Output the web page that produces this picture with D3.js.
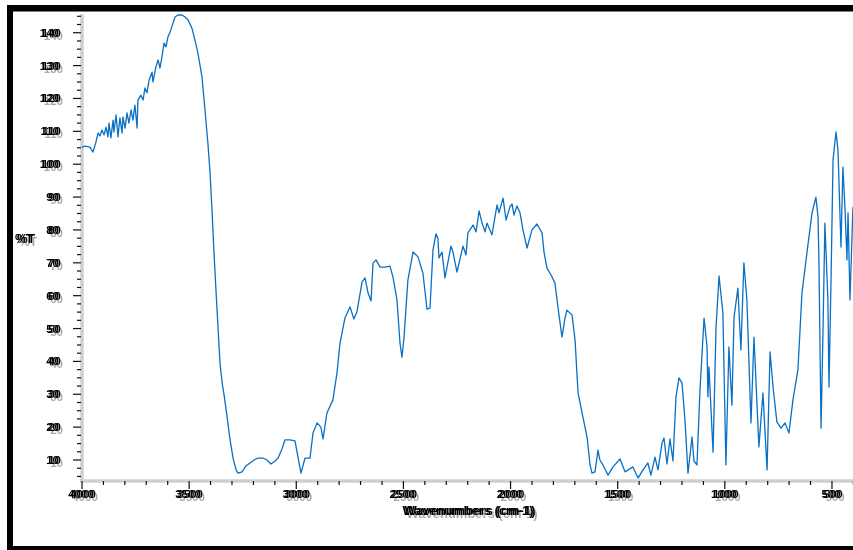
<!DOCTYPE html>
<html><head><meta charset="utf-8">
<script src="https://cdn.jsdelivr.net/npm/d3@7/dist/d3.min.js"></script>
<style>html,body{margin:0;padding:0;background:#fff;overflow:hidden}</style>
</head><body>
<svg id="c" width="853" height="550"></svg>
<script>
// ---- data: IR spectrum, wavenumber (cm-1) vs %T ----
const wavenumbers = [4000,3986,3963,3949,3935,3925,3916,3907,3897,3888,3879,3874,3865,3855,3851,3841,3832,3823,3813,3809,3799,3790,3781,3771,3762,3753,3743,3739,3725,3715,3706,3697,3687,3673,3669,3655,3645,3636,3627,3617,3608,3599,3589,3575,3566,3552,3533,3519,3505,3487,3473,3459,3440,3426,3412,3403,3394,3384,3375,3365,3356,3346,
3337,3323,3309,3295,3281,3272,3253,3235,3216,3197,3179,3155,3137,3118,3099,3085,3067,3053,3029,3006,2992,2978,2969,2959,2936,2922,2903,2885,2875,2857,2829,2810,2796,2773,2749,2731,2717,2693,2679,2665,2651,2642,2628,2609,2586,2563,2549,2530,2516,2507,2497,2479,2455,2432,2409,2390,2376,2362,2348,2339,2334,2320,2306,2278,2269,2250,2222,2208,2199,2175,2161,2147,2133,2119,2110,2087,2063,2054,2035,2021,2003,1993,1984,1970,1956,1942,1923,1900,1877,1853,1844,1830,1811,1793,1779,1760,1746,1737,1713,1699,1685,1667,1643,1629,1620,1606,1592,1583,1569,1545,1522,1489,1466,1429,1405,1382,1359,1345,1326,1312,1293,1284,1270,1256,1242,1228,1214,1200,1186,1172,1153,1144,1130,1116,1097,1083,1079,1074,1055,1041,1027,1009,995,981,967,957,939,925,911,897,878,864,841,822,803,789,775,757,738,719,701,682,659,640,617,593,575,565,561,551,542,533,519,514,505,495,481,472,458,449,439,430,425,416,402];
const transmittance = [105.2,105.5,105.2,103.7,106.7,109.5,108.6,110.4,108.9,111.3,108.3,112.5,108.0,113.4,109.8,115.0,108.3,114.1,109.5,114.4,111.0,115.6,112.5,116.5,113.4,118.0,111.0,119.5,121.0,119.5,123.2,121.7,125.6,128.0,125.0,129.6,131.7,129.3,132.6,136.9,135.7,138.7,140.2,143.0,144.8,145.4,145.4,144.8,143.9,141.4,137.8,133.8,126.5,116.5,106.0,98.0,87.0,73.0,62.0,50.0,39.5,33.5,
29.8,23.1,16.1,10.6,7.0,6.0,6.4,8.2,9.1,10.0,10.6,10.6,10.0,8.8,9.7,10.6,13.3,16.1,16.1,15.8,10.9,6.0,8.2,10.6,10.6,18.2,21.3,20.0,16.4,24.3,28.3,36.5,45.6,53.2,56.6,52.9,55.0,64.2,65.4,60.8,58.4,69.9,70.9,68.7,68.7,69.0,65.7,58.7,45.6,41.3,47.4,64.8,73.3,71.8,66.9,55.9,56.2,73.9,78.8,77.5,71.5,73.3,65.4,75.1,73.3,67.2,75.1,72.4,79.1,81.5,79.4,85.8,82.1,79.4,82.1,78.5,87.6,85.2,89.7,83.0,87.0,87.9,84.5,87.3,85.2,80.0,74.5,80.0,81.8,79.1,73.3,68.4,66.3,63.9,56.6,47.4,53.2,55.6,54.1,46.5,30.4,24.6,17.0,8.5,6.0,6.4,13.0,10.0,8.5,5.4,7.9,10.3,6.4,7.9,4.5,7.0,9.1,5.4,10.9,7.0,15.2,16.7,8.8,16.4,9.7,29.2,35.0,33.4,22.2,6.0,17.0,9.7,8.5,31.3,53.2,44.4,29.2,38.3,12.4,50.5,66.0,54.7,8.5,44.4,26.7,53.5,62.3,43.5,70.0,58.7,21.3,47.4,14.0,30.4,7.0,42.9,32.2,21.6,19.7,21.3,18.2,28.3,37.4,60.8,73.0,85.2,90.0,83.9,70.9,19.7,48.6,82.1,58.7,32.2,62.6,101.3,109.8,104.3,74.8,99.1,86.1,70.9,85.2,58.7,87.0];
const xTickValues = [4000,3500,3000,2500,2000,1500,1000,500];
const yTickValues = [10,20,30,40,50,60,70,80,90,100,110,120,130,140];
const xLabel = "Wavenumbers (cm-1)";
const yLabel = "%T";

const svg = d3.select("#c");
const x = d3.scaleLinear().domain([4000, 400]).range([82, 853.4]);
const y = d3.scaleLinear().domain([3.92, 145.7]).range([480, 14]);

// doubled-print text effect: one text element, grey drop shadow + offset black copy
const defs = svg.append("defs");
const f = defs.append("filter").attr("id","dbl").attr("x","-30%").attr("y","-40%").attr("width","160%").attr("height","180%");
f.append("feOffset").attr("in","SourceAlpha").attr("dx",2).attr("dy",2.5).attr("result","sh");
f.append("feFlood").attr("flood-color","#a8a8a8").attr("result","fl");
f.append("feComposite").attr("in","fl").attr("in2","sh").attr("operator","in").attr("result","grey");
f.append("feOffset").attr("in","SourceGraphic").attr("dx",-2.5).attr("dy",0).attr("result","dup");
const m = f.append("feMerge");
m.append("feMergeNode").attr("in","grey");
m.append("feMergeNode").attr("in","dup");
m.append("feMergeNode").attr("in","SourceGraphic");

// frame
svg.append("rect").attr("x",7).attr("y",5).attr("width",846).attr("height",6.5).attr("fill","#000");
svg.append("rect").attr("x",7).attr("y",5).attr("width",6).attr("height",545).attr("fill","#000");
svg.append("rect").attr("x",7).attr("y",546).attr("width",846).attr("height",4).attr("fill","#000");

function shadowText(tx, ty, str, anchor, size){
  svg.append("text").attr("x",tx).attr("y",ty)
    .attr("font-family","Liberation Sans, Arial, sans-serif")
    .attr("font-size",size).attr("font-weight","bold").attr("text-anchor",anchor)
    .attr("fill","#000").attr("filter","url(#dbl)").text(str);
}

// axes (grey shadow lines + black ticks)
svg.append("line").attr("x1",82).attr("x2",82).attr("y1",14).attr("y2",482).attr("stroke","#cfcfcf").attr("stroke-width",3.5);
svg.append("line").attr("x1",80).attr("x2",853).attr("y1",481).attr("y2",481).attr("stroke","#cfcfcf").attr("stroke-width",3.5);

const yMinor = d3.range(5, 146, 2.5);
svg.append("g").selectAll("line").data(yMinor).join("line")
  .attr("x1", d => (d % 10 === 0) ? 73 : 77).attr("x2",81)
  .attr("y1", d => y(d)).attr("y2", d => y(d))
  .attr("stroke","#111").attr("stroke-width",1.2);
const xMinor = d3.range(4000, 399, -100);
svg.append("g").selectAll("line").data(xMinor).join("line")
  .attr("x1", d => x(d)).attr("x2", d => x(d))
  .attr("y1",481).attr("y2", d => (d % 500 === 0) ? 489 : 485)
  .attr("stroke","#111").attr("stroke-width",1.2);

yTickValues.forEach(v => shadowText(61, y(v)+4, String(v), "end", 11.5));
xTickValues.forEach(v => shadowText(x(v)+1, 498, String(v), "middle", 11.5));
shadowText(470, 515, xLabel, "middle", 13);
shadowText(26, 243, yLabel, "middle", 12);

// spectrum
const pts = wavenumbers.map((w,i) => [w, transmittance[i]]);
const line = d3.line().x(d => x(d[0])).y(d => y(d[1]));
svg.append("path").datum(pts).attr("d", line)
  .attr("fill","none").attr("stroke","#0a70c4").attr("stroke-width",1.3).attr("stroke-linejoin","round");
</script>
</body></html>
